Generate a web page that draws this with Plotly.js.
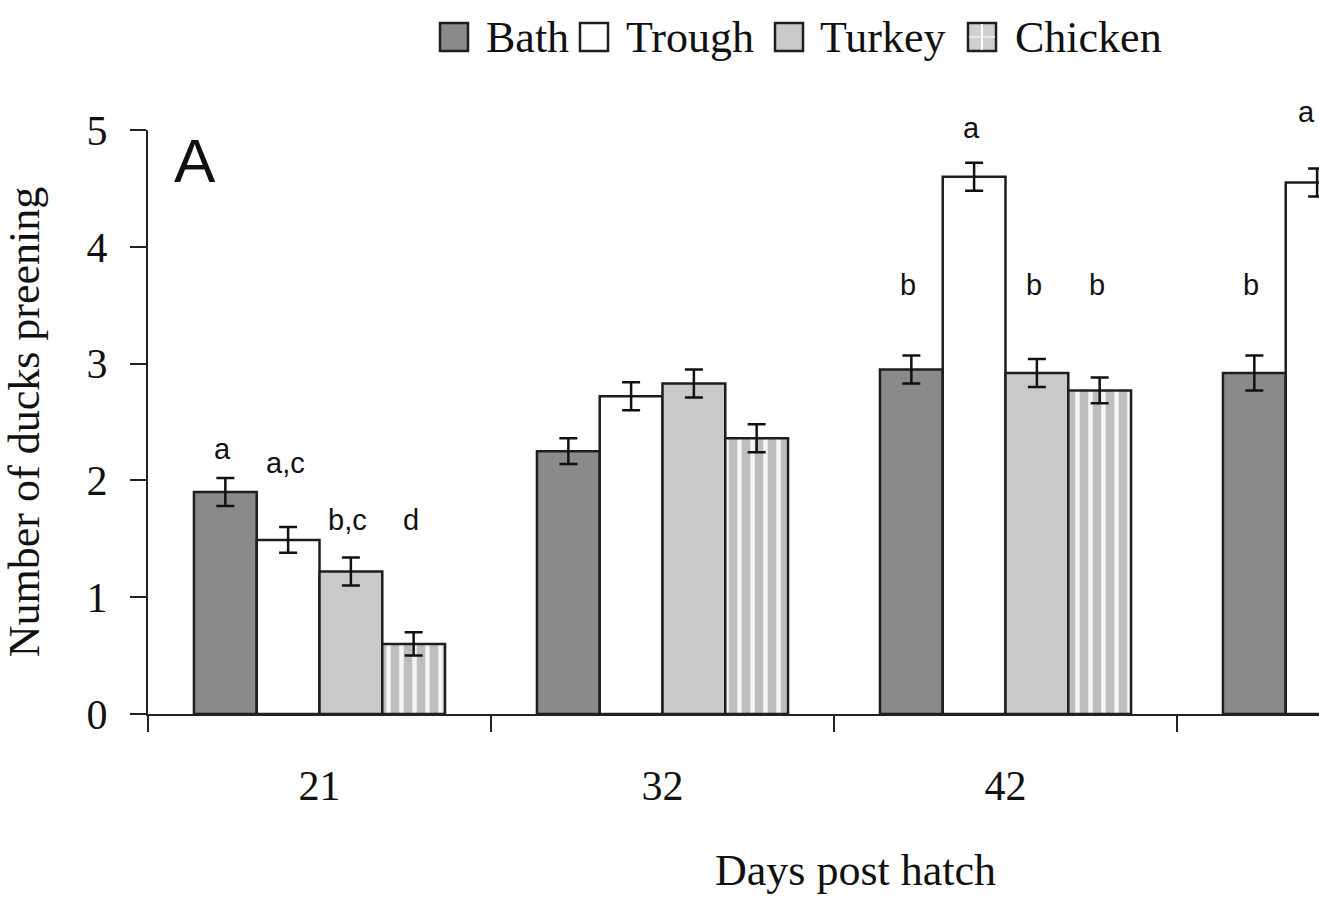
<!DOCTYPE html>
<html>
<head>
<meta charset="utf-8">
<script src="https://cdn.plot.ly/plotly-3.0.1.min.js"></script>
<style>
  html, body { margin: 0; padding: 0; background: #ffffff; }
  #chart { width: 1319px; height: 897px; }
</style>
</head>
<body>
<div id="chart"></div>
<script>
// ---- data ----
const days = ["21", "32", "42", "49"];
const seriesNames = ["Bath", "Trough", "Turkey", "Chicken"];
const bathMean    = [1.90, 2.25, 2.95, 2.92];
const troughMean  = [1.49, 2.72, 4.60, 4.55];
const turkeyMean  = [1.22, 2.83, 2.92, null];
const chickenMean = [0.60, 2.36, 2.77, null];
const bathSE    = [0.12, 0.11, 0.12, 0.15];
const troughSE  = [0.11, 0.12, 0.12, 0.12];
const turkeySE  = [0.12, 0.12, 0.12, null];
const chickenSE = [0.10, 0.12, 0.11, null];
// significance letters and the height (in y units) at which each is printed
const bathLetters    = ["a", "", "b", "b"];
const troughLetters  = ["a,c", "", "a", "a"];
const turkeyLetters  = ["b,c", "", "b", ""];
const chickenLetters = ["d", "", "b", ""];
const bathLetterY    = [2.27, null, 3.67, 3.67];
const troughLetterY  = [2.15, null, 5.02, 5.15];
const turkeyLetterY  = [1.66, null, 3.67, null];
const chickenLetterY = [1.66, null, 3.67, null];
const yTitle = "Number of ducks preening";
const xTitle = "Days post hatch";
const panelLabel = "A";

// ---- styles ----
const serif = "Liberation Serif, Times New Roman, serif";
const sans = "Liberation Sans, Arial, sans-serif";
const fills = ["#8a8a8a", "#ffffff", "#c9c9c9", "#c4c4c4"];
const means = [bathMean, troughMean, turkeyMean, chickenMean];
const ses = [bathSE, troughSE, turkeySE, chickenSE];
const letters = [bathLetters, troughLetters, turkeyLetters, chickenLetters];
const letterY = [bathLetterY, troughLetterY, turkeyLetterY, chickenLetterY];
const bargap = 0.268;
const yMax = 5;
const xRangeMax = 2.914;

const W = 1171, H = 584, L = 148, T = 130;

const traces = seriesNames.map((name, i) => {
  const t = {
    type: "bar",
    name: name,
    x: days,
    y: means[i],
    marker: { color: fills[i], line: { color: "#1e1e1e", width: 2.5 } },
    error_y: { type: "data", array: ses[i], visible: true, color: "#111", thickness: 2.5, width: 9 },
    showlegend: false,
    hoverinfo: "x+y+name"
  };
  if (name === "Chicken") {
    t.marker.pattern = { shape: "|", bgcolor: "#bdbdbd", fgcolor: "#f4f4f4", size: 13, solidity: 0.35 };
  }
  return t;
});

const annotations = [];
const shapes = [];
const bw = (1 - bargap) / seriesNames.length;
const catPx = W / (xRangeMax + 0.5);
seriesNames.forEach((name, i) => {
  letters[i].forEach((lab, g) => {
    if (!lab) return;
    const xv = g + (i - 1.5) * bw;
    const centrePx = L + (xv + 0.5) * catPx;
    // keep letters near the right edge fully on the page
    const shift = centrePx > W + L - 12 ? (W + L - 12) - centrePx : -3;
    annotations.push({
      x: xv, xref: "x",
      y: letterY[i][g] / yMax, yref: "paper",
      text: lab, showarrow: false, xshift: shift,
      font: { family: sans, size: 29, color: "#111" },
      xanchor: "center", yanchor: "middle"
    });
  });
});

// panel label
annotations.push({
  x: 0.040, y: 0.947, xref: "paper", yref: "paper",
  text: panelLabel, showarrow: false,
  font: { family: sans, size: 62, color: "#111" },
  xanchor: "center", yanchor: "middle"
});
// x axis title (centred under the full, partly cut-off axis)
annotations.push({
  x: 0.604, y: -0.268, xref: "paper", yref: "paper",
  text: xTitle, showarrow: false,
  font: { family: serif, size: 44, color: "#111" },
  xanchor: "center", yanchor: "middle"
});

// manual legend (large square swatches)
const px = v => (v - L) / W;
const py = v => (T + H - v) / H;
const swatchLeft = [440, 580, 775, 968];
const labelLeft = [484, 624, 818, 1013];
seriesNames.forEach((name, i) => {
  shapes.push({
    type: "rect", xref: "paper", yref: "paper",
    x0: px(swatchLeft[i]), x1: px(swatchLeft[i] + 28),
    y0: py(51), y1: py(23),
    fillcolor: name === "Chicken" ? "#cfcfcf" : fills[i],
    line: { color: "#1e1e1e", width: 2.5 }
  });
  if (name === "Chicken") {
    shapes.push({ type: "line", xref: "paper", yref: "paper",
      x0: px(swatchLeft[i] + 14), x1: px(swatchLeft[i] + 14), y0: py(50), y1: py(24),
      line: { color: "#ffffff", width: 2 } });
    shapes.push({ type: "line", xref: "paper", yref: "paper",
      x0: px(swatchLeft[i] + 1), x1: px(swatchLeft[i] + 27), y0: py(37), y1: py(37),
      line: { color: "#f0f0f0", width: 1.5 } });
  }
  annotations.push({
    x: px(labelLeft[i]), y: py(37), xref: "paper", yref: "paper",
    text: name, showarrow: false,
    font: { family: serif, size: 44, color: "#111" },
    xanchor: "left", yanchor: "middle"
  });
});

const layout = {
  width: 1319, height: 897,
  margin: { l: 148, r: 0, t: 130, b: 183, pad: 0 },
  paper_bgcolor: "#ffffff", plot_bgcolor: "#ffffff",
  barmode: "group", bargap: bargap, bargroupgap: 0,
  showlegend: false,
  font: { family: serif, color: "#111" },
  xaxis: {
    type: "category",
    range: [-0.5, xRangeMax],
    showline: true, linecolor: "#222", linewidth: 2,
    ticks: "outside", tickson: "boundaries", ticklen: 16, tickwidth: 2, tickcolor: "#222",
    showgrid: false, zeroline: false,
    tickfont: { family: serif, size: 42, color: "#111" },
    ticklabelstandoff: 34
  },
  yaxis: {
    range: [0, yMax], dtick: 1, tick0: 0,
    showline: true, linecolor: "#222", linewidth: 2,
    ticks: "outside", ticklen: 16, tickwidth: 2, tickcolor: "#222",
    showgrid: false, zeroline: false,
    tickfont: { family: serif, size: 42, color: "#111" },
    ticklabelstandoff: 14,
    title: { text: yTitle, font: { family: serif, size: 44, color: "#111" }, standoff: 36 },
    automargin: false
  },
  annotations: annotations,
  shapes: shapes
};

Plotly.newPlot("chart", traces, layout, { displayModeBar: false, staticPlot: true });
</script>
</body>
</html>
